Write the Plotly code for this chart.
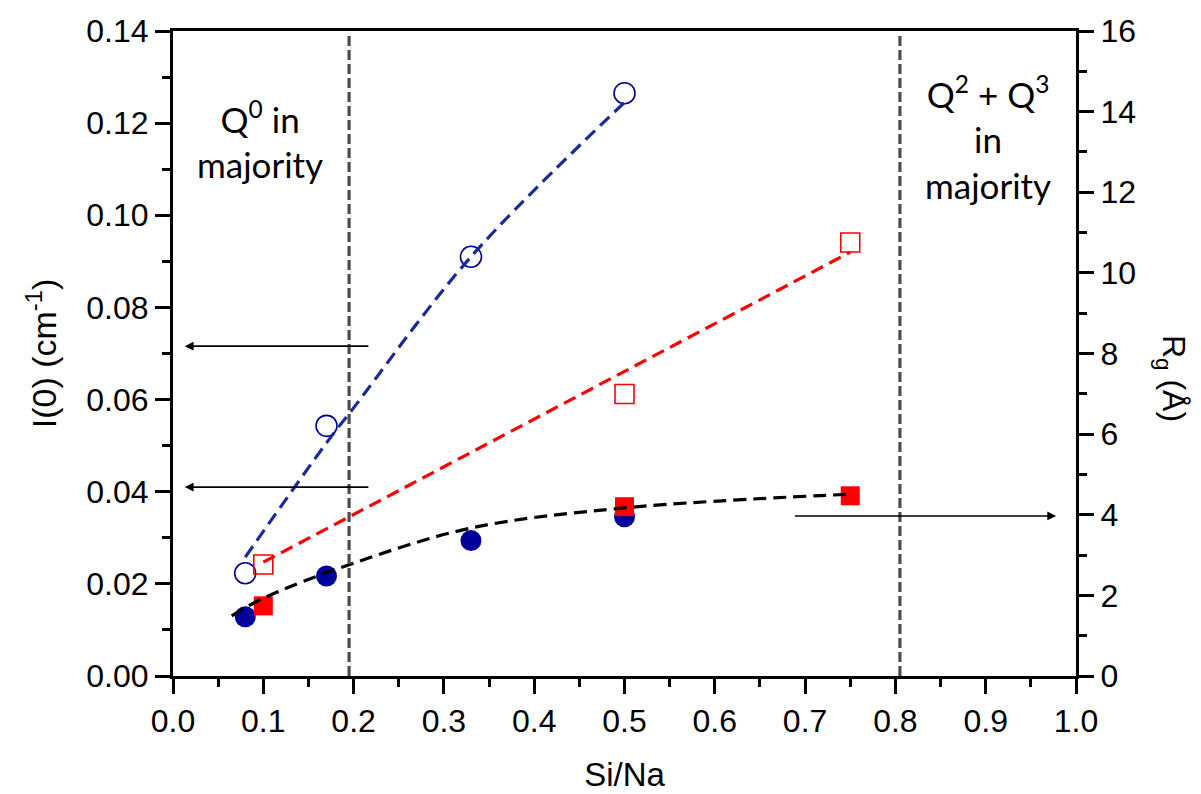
import plotly.graph_objects as go

# ---------------- data ----------------
# I(0) (left axis, cm^-1) - open markers
circ_open_x = [0.08, 0.17, 0.33, 0.50]
circ_open_y = [0.0223, 0.0543, 0.0910, 0.1265]
sq_open_x = [0.10, 0.50, 0.75]
sq_open_y = [0.0242, 0.0612, 0.0941]

# Rg (right axis, Angstrom) - filled markers
circ_fill_x = [0.08, 0.17, 0.33, 0.50]
circ_fill_y = [1.47, 2.48, 3.36, 3.95]
sq_fill_x = [0.10, 0.50, 0.75]
sq_fill_y = [1.74, 4.20, 4.47]

# dashed guide curves
blue_fit_x = [0.08, 0.17, 0.20, 0.33, 0.50]
blue_fit_y = [0.0258, 0.0506, 0.0582, 0.0910, 0.1245]
red_fit_x = [0.10, 0.75]
red_fit_y = [0.0247, 0.0920]
black_fit_x = [0.065, 0.10, 0.20, 0.33, 0.50, 0.75]
black_fit_y = [1.49, 1.93, 2.80, 3.67, 4.17, 4.51]

# region boundaries
boundaries_x = [0.195, 0.805]

# arrows: (tail x, head x, y, axis)
arrows = [
    (0.218, 0.013, 0.0716, "y"),
    (0.218, 0.013, 0.0410, "y"),
    (0.687, 0.978, 3.97, "y2"),
]

x_ticks = [0.0, 0.1, 0.2, 0.3, 0.4, 0.5, 0.6, 0.7, 0.8, 0.9, 1.0]

BLUE = "#00009c"
BLUE_LINE = "#1a2a9e"
RED = "#ff0000"
FONT = "Liberation Sans, Arial, sans-serif"
TEXTFONT = "Lato, Open Sans, sans-serif"

# page has an 8px body margin: figure is sized to fill the rest of the window
OFF = 8
W, H = 1201 - OFF, 794 - OFF
PL, PR, PT, PB = 173, 1076, 31, 676  # plot area in page pixels
PW, PH = PR - PL, PB - PT


def px(xp):
    return (xp - PL) / PW


def py(yp):
    return (PB - yp) / PH


fig = go.Figure()

fig.add_trace(go.Scatter(x=circ_open_x, y=circ_open_y, mode="markers", yaxis="y",
                         marker=dict(symbol="circle-open", size=21, color=BLUE, line=dict(width=1.6, color=BLUE))))
fig.add_trace(go.Scatter(x=sq_open_x, y=sq_open_y, mode="markers", yaxis="y",
                         marker=dict(symbol="square-open", size=19, color=RED, line=dict(width=1.6, color=RED))))
fig.add_trace(go.Scatter(x=blue_fit_x, y=blue_fit_y, mode="lines", yaxis="y",
                         line=dict(color=BLUE_LINE, width=3.2, dash="13px,7px", shape="spline", smoothing=1.0)))
fig.add_trace(go.Scatter(x=red_fit_x, y=red_fit_y, mode="lines", yaxis="y",
                         line=dict(color=RED, width=3.2, dash="13px,7px")))

fig.add_trace(go.Scatter(x=circ_fill_x, y=circ_fill_y, mode="markers", yaxis="y2",
                         marker=dict(symbol="circle", size=21, color=BLUE, line=dict(width=0))))
fig.add_trace(go.Scatter(x=sq_fill_x, y=sq_fill_y, mode="markers", yaxis="y2",
                         marker=dict(symbol="square", size=19, color=RED, line=dict(width=0))))
fig.add_trace(go.Scatter(x=black_fit_x, y=black_fit_y, mode="lines", yaxis="y2",
                         line=dict(color="black", width=3.2, dash="13px,7px", shape="spline", smoothing=1.0)))

for bx in boundaries_x:
    fig.add_shape(type="line", xref="x", yref="paper", x0=bx, x1=bx, y0=0, y1=py(35),
                  line=dict(color="#4d4d4d", width=3.2, dash="10px,4px"))

for tail, head, yv, ax in arrows:
    fig.add_annotation(x=head, y=yv, ax=tail, ay=yv, xref="x", yref=ax, axref="x", ayref=ax,
                       showarrow=True, arrowhead=2, arrowsize=1.1, arrowwidth=1.6,
                       arrowcolor="black", text="")

fig.add_annotation(x=0.0963, y=py(139), xref="x", yref="paper", showarrow=False,
                   xanchor="center", yanchor="middle",
                   text="Q<sup>0</sup> in<br>majority", align="center",
                   font=dict(family=TEXTFONT, size=35, color="black"))
fig.add_annotation(x=0.902, y=py(137), xref="x", yref="paper", showarrow=False,
                   xanchor="center", yanchor="middle",
                   text="Q<sup>2</sup> + Q<sup>3</sup><br>in<br>majority", align="center",
                   font=dict(family=TEXTFONT, size=35, color="black"))

# right axis title rotated clockwise
fig.add_annotation(x=px(1172), y=py(378), xref="paper", yref="paper",
                   showarrow=False, xanchor="center", yanchor="middle",
                   text="R<sub>g</sub> (Å)", textangle=90,
                   font=dict(family=FONT, size=32, color="black"))

tickfont = dict(family=FONT, size=32, color="black")

fig.update_layout(
    width=W, height=H,
    margin=dict(l=PL - OFF, r=1201 - PR, t=PT - OFF, b=794 - PB, autoexpand=False),
    paper_bgcolor="white", plot_bgcolor="white",
    showlegend=False,
    font=dict(family=FONT, size=32, color="black"),
    xaxis=dict(range=[0, 1], tickvals=x_ticks, tickformat=".1f", tickfont=tickfont,
               ticks="outside", ticklen=15, tickwidth=2.5, tickcolor="black",
               minor=dict(dtick=0.05, ticks="outside", ticklen=8, tickwidth=2.5, tickcolor="black"),
               showline=True, linewidth=3, linecolor="black", mirror=True,
               showgrid=False, zeroline=False, automargin=False,
               title=dict(text="Si/Na", font=dict(family=FONT, size=33), standoff=25)),
    yaxis=dict(range=[0, 0.14], dtick=0.02, tickformat=".2f", tickfont=tickfont,
               ticks="outside", ticklen=15, tickwidth=2.5, tickcolor="black",
               minor=dict(dtick=0.01, ticks="outside", ticklen=8, tickwidth=2.5, tickcolor="black"),
               showline=True, linewidth=3, linecolor="black",
               showgrid=False, zeroline=False, automargin=False,
               title=dict(text="I(0) (cm<sup>-1</sup>)", font=dict(family=FONT, size=34), standoff=20)),
    yaxis2=dict(range=[0, 16], dtick=2, overlaying="y", side="right", tickfont=tickfont,
                ticks="outside", ticklen=15, tickwidth=2.5, tickcolor="black",
                minor=dict(dtick=1, ticks="outside", ticklen=8, tickwidth=2.5, tickcolor="black"),
                showline=True, linewidth=3, linecolor="black",
                showgrid=False, zeroline=False, automargin=False),
)

fig.write_html("out.html")
